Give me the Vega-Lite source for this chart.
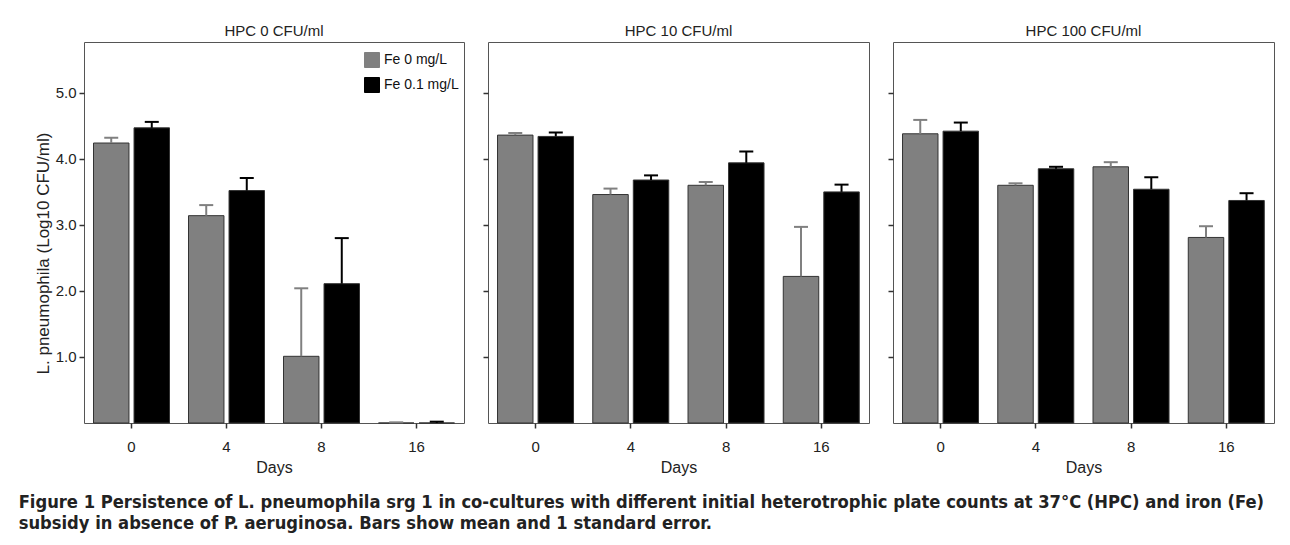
{
  "$schema": "https://vega.github.io/schema/vega-lite/v6.json",
  "background": "white",
  "padding": {"left": 18, "top": 23, "right": 5, "bottom": 5},
  "datasets": {
    "d": [
      {"panel": "HPC 0 CFU/ml", "day": 0, "fe": "Fe 0 mg/L", "mean": 4.24, "upper": 4.32},
      {"panel": "HPC 0 CFU/ml", "day": 0, "fe": "Fe 0.1 mg/L", "mean": 4.47, "upper": 4.56},
      {"panel": "HPC 0 CFU/ml", "day": 4, "fe": "Fe 0 mg/L", "mean": 3.14, "upper": 3.30},
      {"panel": "HPC 0 CFU/ml", "day": 4, "fe": "Fe 0.1 mg/L", "mean": 3.52, "upper": 3.71},
      {"panel": "HPC 0 CFU/ml", "day": 8, "fe": "Fe 0 mg/L", "mean": 1.01, "upper": 2.04},
      {"panel": "HPC 0 CFU/ml", "day": 8, "fe": "Fe 0.1 mg/L", "mean": 2.11, "upper": 2.80},
      {"panel": "HPC 0 CFU/ml", "day": 16, "fe": "Fe 0 mg/L", "mean": 0.0, "upper": 0.01},
      {"panel": "HPC 0 CFU/ml", "day": 16, "fe": "Fe 0.1 mg/L", "mean": 0.0, "upper": 0.02},
      {"panel": "HPC 10 CFU/ml", "day": 0, "fe": "Fe 0 mg/L", "mean": 4.36, "upper": 4.39},
      {"panel": "HPC 10 CFU/ml", "day": 0, "fe": "Fe 0.1 mg/L", "mean": 4.34, "upper": 4.40},
      {"panel": "HPC 10 CFU/ml", "day": 4, "fe": "Fe 0 mg/L", "mean": 3.46, "upper": 3.55},
      {"panel": "HPC 10 CFU/ml", "day": 4, "fe": "Fe 0.1 mg/L", "mean": 3.68, "upper": 3.75},
      {"panel": "HPC 10 CFU/ml", "day": 8, "fe": "Fe 0 mg/L", "mean": 3.60, "upper": 3.65},
      {"panel": "HPC 10 CFU/ml", "day": 8, "fe": "Fe 0.1 mg/L", "mean": 3.94, "upper": 4.11},
      {"panel": "HPC 10 CFU/ml", "day": 16, "fe": "Fe 0 mg/L", "mean": 2.22, "upper": 2.97},
      {"panel": "HPC 10 CFU/ml", "day": 16, "fe": "Fe 0.1 mg/L", "mean": 3.50, "upper": 3.61},
      {"panel": "HPC 100 CFU/ml", "day": 0, "fe": "Fe 0 mg/L", "mean": 4.38, "upper": 4.59},
      {"panel": "HPC 100 CFU/ml", "day": 0, "fe": "Fe 0.1 mg/L", "mean": 4.42, "upper": 4.55},
      {"panel": "HPC 100 CFU/ml", "day": 4, "fe": "Fe 0 mg/L", "mean": 3.60, "upper": 3.63},
      {"panel": "HPC 100 CFU/ml", "day": 4, "fe": "Fe 0.1 mg/L", "mean": 3.85, "upper": 3.88},
      {"panel": "HPC 100 CFU/ml", "day": 8, "fe": "Fe 0 mg/L", "mean": 3.88, "upper": 3.95},
      {"panel": "HPC 100 CFU/ml", "day": 8, "fe": "Fe 0.1 mg/L", "mean": 3.54, "upper": 3.72},
      {"panel": "HPC 100 CFU/ml", "day": 16, "fe": "Fe 0 mg/L", "mean": 2.81, "upper": 2.98},
      {"panel": "HPC 100 CFU/ml", "day": 16, "fe": "Fe 0.1 mg/L", "mean": 3.37, "upper": 3.48}
    ]
  },
  "config": {
    "font": "Liberation Sans",
    "view": {"stroke": "#555555", "strokeWidth": 1},
    "axis": {"grid": false, "domain": false, "tickColor": "#333333", "tickSize": 5, "tickWidth": 1.5, "labelFont": "Liberation Sans", "labelFontSize": 15, "labelColor": "#222222", "titleFont": "Liberation Sans", "titleFontSize": 16, "titleFontWeight": "normal", "titleColor": "#222222"},
    "title": {"font": "Liberation Sans", "fontSize": 15, "fontWeight": "normal", "color": "#222222"},
    "concat": {"spacing": 16}
  },
  "title": {
    "text": ["Figure 1 Persistence of L. pneumophila srg 1 in co-cultures with different initial heterotrophic plate counts at 37°C (HPC) and iron (Fe)", "subsidy in absence of P. aeruginosa. Bars show mean and 1 standard error."],
    "orient": "bottom",
    "anchor": "start",
    "frame": "bounds",
    "font": "DejaVu Sans Condensed, sans-serif",
    "fontSize": 18.2,
    "fontWeight": "bold",
    "lineHeight": 21,
    "offset": 18,
    "dx": -15,
    "color": "#222222"
  },
  "hconcat": [
    {
      "width": 380, "height": 381,
      "title": {"text": "HPC 0 CFU/ml", "offset": 3},
      "data": {"name": "d"},
      "transform": [{"filter": "datum.panel === 'HPC 0 CFU/ml'"}],
      "encoding": {
        "x": {"field": "day", "type": "ordinal", "sort": [0, 4, 8, 16], "scale": {"paddingInner": 0.2, "paddingOuter": 0.1}, "axis": {"title": "Days", "labelAngle": 0, "labelPadding": 11, "titlePadding": 5}},
        "xOffset": {"field": "fe", "type": "nominal", "sort": ["Fe 0 mg/L", "Fe 0.1 mg/L"], "scale": {"paddingInner": 0.125, "paddingOuter": 0}}
      },
      "layer": [
        {
          "mark": {"type": "bar", "stroke": "#333333", "strokeWidth": 1},
          "encoding": {
            "y": {"field": "mean", "type": "quantitative", "scale": {"domain": [0, 5.77], "nice": false}, "axis": {"values": [1, 2, 3, 4, 5], "format": ".1f", "title": "L. pneumophila (Log10 CFU/ml)", "titleFontSize": 17, "titlePadding": 3, "titleY": 211, "labelPadding": 3}},
            "fill": {"field": "fe", "type": "nominal", "scale": {"domain": ["Fe 0 mg/L", "Fe 0.1 mg/L"], "range": ["#808080", "#000000"]}, "legend": {"title": null, "orient": "none", "legendX": 280, "legendY": 10, "symbolType": "square", "symbolSize": 225, "symbolStrokeColor": "#333333", "symbolStrokeWidth": 1, "symbolOpacity": 1, "labelFontSize": 14, "labelColor": "#111111", "labelOffset": 4, "rowPadding": 5}}
          }
        },
        {
          "mark": {"type": "rule", "strokeWidth": 2},
          "encoding": {
            "y": {"field": "mean", "type": "quantitative"},
            "y2": {"field": "upper"},
            "color": {"field": "fe", "type": "nominal", "scale": {"domain": ["Fe 0 mg/L", "Fe 0.1 mg/L"], "range": ["#808080", "#000000"]}, "legend": null}
          }
        },
        {
          "mark": {"type": "tick", "thickness": 2, "size": 14, "orient": "horizontal"},
          "encoding": {
            "y": {"field": "upper", "type": "quantitative"},
            "color": {"field": "fe", "type": "nominal", "legend": null},
            "opacity": {"value": 1}
          }
        }
      ]
    },
    {
      "width": 381, "height": 381,
      "title": {"text": "HPC 10 CFU/ml", "offset": 3},
      "data": {"name": "d"},
      "transform": [{"filter": "datum.panel === 'HPC 10 CFU/ml'"}],
      "encoding": {
        "x": {"field": "day", "type": "ordinal", "sort": [0, 4, 8, 16], "scale": {"paddingInner": 0.2, "paddingOuter": 0.1}, "axis": {"title": "Days", "labelAngle": 0, "labelPadding": 11, "titlePadding": 5}},
        "xOffset": {"field": "fe", "type": "nominal", "sort": ["Fe 0 mg/L", "Fe 0.1 mg/L"], "scale": {"paddingInner": 0.125, "paddingOuter": 0}}
      },
      "layer": [
        {
          "mark": {"type": "bar", "stroke": "#333333", "strokeWidth": 1},
          "encoding": {
            "y": {"field": "mean", "type": "quantitative", "scale": {"domain": [0, 5.77], "nice": false}, "axis": {"values": [1, 2, 3, 4, 5], "labels": false, "title": null}},
            "fill": {"field": "fe", "type": "nominal", "scale": {"domain": ["Fe 0 mg/L", "Fe 0.1 mg/L"], "range": ["#808080", "#000000"]}, "legend": null}
          }
        },
        {
          "mark": {"type": "rule", "strokeWidth": 2},
          "encoding": {
            "y": {"field": "mean", "type": "quantitative"},
            "y2": {"field": "upper"},
            "color": {"field": "fe", "type": "nominal", "scale": {"domain": ["Fe 0 mg/L", "Fe 0.1 mg/L"], "range": ["#808080", "#000000"]}, "legend": null}
          }
        },
        {
          "mark": {"type": "tick", "thickness": 2, "size": 14, "orient": "horizontal"},
          "encoding": {
            "y": {"field": "upper", "type": "quantitative"},
            "color": {"field": "fe", "type": "nominal", "legend": null},
            "opacity": {"value": 1}
          }
        }
      ]
    },
    {
      "width": 381, "height": 381,
      "title": {"text": "HPC 100 CFU/ml", "offset": 3},
      "data": {"name": "d"},
      "transform": [{"filter": "datum.panel === 'HPC 100 CFU/ml'"}],
      "encoding": {
        "x": {"field": "day", "type": "ordinal", "sort": [0, 4, 8, 16], "scale": {"paddingInner": 0.2, "paddingOuter": 0.1}, "axis": {"title": "Days", "labelAngle": 0, "labelPadding": 11, "titlePadding": 5}},
        "xOffset": {"field": "fe", "type": "nominal", "sort": ["Fe 0 mg/L", "Fe 0.1 mg/L"], "scale": {"paddingInner": 0.125, "paddingOuter": 0}}
      },
      "layer": [
        {
          "mark": {"type": "bar", "stroke": "#333333", "strokeWidth": 1},
          "encoding": {
            "y": {"field": "mean", "type": "quantitative", "scale": {"domain": [0, 5.77], "nice": false}, "axis": {"values": [1, 2, 3, 4, 5], "labels": false, "title": null}},
            "fill": {"field": "fe", "type": "nominal", "scale": {"domain": ["Fe 0 mg/L", "Fe 0.1 mg/L"], "range": ["#808080", "#000000"]}, "legend": null}
          }
        },
        {
          "mark": {"type": "rule", "strokeWidth": 2},
          "encoding": {
            "y": {"field": "mean", "type": "quantitative"},
            "y2": {"field": "upper"},
            "color": {"field": "fe", "type": "nominal", "scale": {"domain": ["Fe 0 mg/L", "Fe 0.1 mg/L"], "range": ["#808080", "#000000"]}, "legend": null}
          }
        },
        {
          "mark": {"type": "tick", "thickness": 2, "size": 14, "orient": "horizontal"},
          "encoding": {
            "y": {"field": "upper", "type": "quantitative"},
            "color": {"field": "fe", "type": "nominal", "legend": null},
            "opacity": {"value": 1}
          }
        }
      ]
    }
  ]
}
